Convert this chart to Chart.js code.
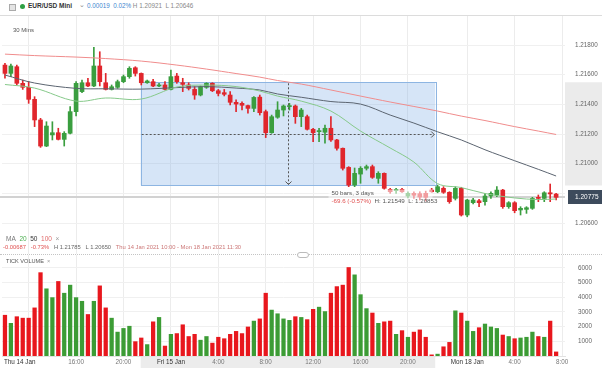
<!DOCTYPE html>
<html>
<head>
<meta charset="utf-8">
<script src="https://cdn.jsdelivr.net/npm/chart.js@4.4.1/dist/chart.umd.min.js"></script>
<style>
  body { margin: 0; width: 602px; height: 368px; overflow: hidden; background: #fff; position: relative;
         font-family: "Liberation Sans", Arial, sans-serif; }
  .abs { position: absolute; white-space: nowrap; line-height: 1; }
  canvas { position: absolute; left: 0; }
  #hdr { left: 0; top: 0; width: 602px; height: 15px; border-bottom: 1px solid #dcdcdc; }
  #sep { left: 0; top: 254px; width: 602px; border-top: 1px dotted #c4c4c4; }
</style>
</head>
<body>
<div class="abs" id="hdr"></div>
<div class="abs" style="left:9px;top:4px;width:5px;height:5px;border:1px solid #aaa;background:#e4e4e4"></div>
<div class="abs" style="left:20px;top:4px;width:5px;height:5px;border-radius:50%;background:#2ea043"></div>
<div class="abs" style="left:28px;top:3px;font-size:6.5px;font-weight:bold;color:#333">EUR/USD Mini</div>
<div class="abs" style="left:79px;top:2px;font-size:6.5px;color:#888">&#8964;</div>
<div class="abs" style="left:87px;top:3px;font-size:6.3px;color:#888">
  <span style="color:#3f86cf">0.00019</span>&nbsp; <span style="color:#3f86cf">0.02%</span> H 1.20921&nbsp; L 1.20646</div>
<div class="abs" style="left:13px;top:27px;font-size:6px;color:#555;z-index:2">30 Mins</div>

<canvas id="price" width="602" height="238" style="top:16px"></canvas>

<div class="abs" style="left:6px;top:236px;font-size:6.5px;color:#777;z-index:2">MA&nbsp;
  <span style="color:#4caf50">20</span>&nbsp; <span style="color:#333">50</span>&nbsp;
  <span style="color:#e06a6a">100</span>&nbsp; <span style="color:#999">&#215;</span></div>
<div class="abs" style="left:3px;top:245px;font-size:5.8px;color:#666;z-index:2">
  <span style="color:#e05050">-0.00687</span>&nbsp;&nbsp; <span style="color:#e05050">-0.73%</span>&nbsp;&nbsp;
  H 1.21785&nbsp;&nbsp; L 1.20650&nbsp;&nbsp;
  <span style="color:#c77">Thu 14 Jan 2021 10:00 - Mon 18 Jan 2021 11:30</span></div>

<div class="abs" id="sep"></div>
<div class="abs" style="left:297px;top:252px;width:10px;height:4px;border:1px solid #bbb;border-radius:3px;background:#fff"></div>

<canvas id="vol" width="602" height="113" style="top:255px"></canvas>
<div class="abs" style="left:6px;top:259px;font-size:5.6px;color:#555;z-index:2">TICK VOLUME&nbsp; <span style="color:#999">&#215;</span></div>

<script>
// 30 minute bars, Thu 14 Jan 10:00 -> Mon 18 Jan 07:30
const open = [
  1.21665, 1.21609, 1.21654, 1.21542, 1.21515, 1.21434, 1.21295, 1.21119, 1.21194, 1.21209,
  1.21164, 1.21205, 1.21351, 1.21486, 1.21546, 1.21524, 1.21659, 1.21546, 1.21501, 1.21515,
  1.21553, 1.21587, 1.21647, 1.21609, 1.21546, 1.21553, 1.21524, 1.21531, 1.21501, 1.21591,
  1.21546, 1.21531, 1.21501, 1.21463, 1.21515, 1.21542, 1.21492, 1.21479, 1.21463, 1.21414,
  1.21407, 1.21392, 1.21373, 1.21449, 1.21351, 1.21209, 1.21313, 1.21362, 1.21385, 1.21389,
  1.21317, 1.21317, 1.21232, 1.21216, 1.21212, 1.21239, 1.21160, 1.21104, 1.20975, 1.20856,
  1.20930, 1.20969, 1.20980, 1.20901, 1.20935, 1.20827, 1.20818, 1.20827, 1.20782, 1.20800,
  1.20798, 1.20800, 1.20822, 1.20811, 1.20834, 1.20807, 1.20766, 1.20834, 1.20654, 1.20737,
  1.20750, 1.20744, 1.20782, 1.20789, 1.20822, 1.20710, 1.20737, 1.20688, 1.20692, 1.20699,
  1.20773, 1.20766, 1.20804, 1.20795
];
const high = [
  1.21677, 1.21672, 1.21665, 1.21564, 1.21553, 1.21452, 1.21306, 1.21283, 1.21283, 1.21239,
  1.21216, 1.21385, 1.21553, 1.21564, 1.21576, 1.21785, 1.21755, 1.21609, 1.21531, 1.21564,
  1.21598, 1.21654, 1.21654, 1.21612, 1.21564, 1.21569, 1.21542, 1.21553, 1.21632, 1.21609,
  1.21576, 1.21546, 1.21519, 1.21524, 1.21546, 1.21546, 1.21501, 1.21501, 1.21486, 1.21430,
  1.21418, 1.21396, 1.21452, 1.21463, 1.21362, 1.21328, 1.21418, 1.21396, 1.21407, 1.21396,
  1.21373, 1.21328, 1.21239, 1.21239, 1.21261, 1.21317, 1.21164, 1.21106, 1.20980, 1.20971,
  1.20980, 1.20991, 1.20991, 1.20946, 1.20938, 1.20834, 1.20834, 1.20834, 1.20811, 1.20811,
  1.20811, 1.20815, 1.20834, 1.20856, 1.20845, 1.20811, 1.20845, 1.20841, 1.20760, 1.20766,
  1.20760, 1.20800, 1.20811, 1.20845, 1.20827, 1.20744, 1.20744, 1.20710, 1.20710, 1.20773,
  1.20789, 1.20811, 1.20863, 1.20800
];
const low = [
  1.21576, 1.21587, 1.21531, 1.21501, 1.21407, 1.21250, 1.21110, 1.21115, 1.21160, 1.21160,
  1.21119, 1.21200, 1.21322, 1.21479, 1.21519, 1.21519, 1.21524, 1.21497, 1.21497, 1.21508,
  1.21546, 1.21576, 1.21591, 1.21531, 1.21542, 1.21519, 1.21519, 1.21497, 1.21497, 1.21542,
  1.21486, 1.21497, 1.21434, 1.21457, 1.21508, 1.21486, 1.21457, 1.21457, 1.21396, 1.21351,
  1.21362, 1.21340, 1.21351, 1.21328, 1.21176, 1.21205, 1.21306, 1.21322, 1.21362, 1.21272,
  1.21250, 1.21227, 1.21149, 1.21149, 1.21138, 1.21150, 1.21092, 1.20957, 1.20845, 1.20845,
  1.20868, 1.20957, 1.20901, 1.20868, 1.20827, 1.20800, 1.20800, 1.20807, 1.20769, 1.20766,
  1.20755, 1.20748, 1.20807, 1.20804, 1.20800, 1.20733, 1.20755, 1.20647, 1.20642, 1.20728,
  1.20710, 1.20721, 1.20766, 1.20777, 1.20699, 1.20699, 1.20669, 1.20654, 1.20665, 1.20692,
  1.20744, 1.20744, 1.20744, 1.20755
];
const close = [
  1.21609, 1.21659, 1.21542, 1.21515, 1.21434, 1.21295, 1.21119, 1.21254, 1.21209, 1.21164,
  1.21205, 1.21351, 1.21542, 1.21546, 1.21524, 1.21659, 1.21553, 1.21501, 1.21519, 1.21553,
  1.21587, 1.21643, 1.21609, 1.21546, 1.21558, 1.21524, 1.21531, 1.21501, 1.21587, 1.21553,
  1.21535, 1.21508, 1.21463, 1.21519, 1.21542, 1.21492, 1.21474, 1.21468, 1.21414, 1.21402,
  1.21394, 1.21373, 1.21447, 1.21344, 1.21209, 1.21317, 1.21362, 1.21389, 1.21389, 1.21317,
  1.21362, 1.21232, 1.21209, 1.21223, 1.21239, 1.21160, 1.21104, 1.20969, 1.20856, 1.20935,
  1.20969, 1.20980, 1.20908, 1.20935, 1.20834, 1.20811, 1.20827, 1.20811, 1.20800, 1.20787,
  1.20775, 1.20773, 1.20811, 1.20845, 1.20807, 1.20744, 1.20834, 1.20654, 1.20755, 1.20755,
  1.20737, 1.20782, 1.20800, 1.20822, 1.20710, 1.20737, 1.20683, 1.20699, 1.20703, 1.20766,
  1.20766, 1.20804, 1.20796, 1.20773
];
const volume = [
  2800, 2250, 2700, 2600, 2600, 3300, 5700, 4600, 4000, 5100,
  4300, 4850, 4000, 3750, 2850, 3750, 4800, 3300, 2600, 1650,
  1900, 2050, 1000, 1250, 800, 2350, 2650, 700, 1500, 1550,
  2150, 1350, 1500, 1100, 1350, 900, 1300, 1200, 1500, 1700,
  1550, 2000, 2400, 2550, 4300, 3150, 2900, 2550, 2450, 2700,
  2650, 2500, 3200, 3350, 3050, 4300, 4750, 4850, 6050, 5550,
  4200, 3250, 2950, 2250, 2350, 2400, 1500, 1750, 1300, 1650,
  1800, 1300, 100, 150, 650, 950, 3100, 2950, 2400, 1700,
  1950, 2200, 2000, 1900, 1450, 1350, 1200, 1250, 1300, 1650,
  1350, 1300, 2400, 300
];

const maAt  = [0, 5, 12, 17, 23, 29, 34, 39, 43, 46, 50, 55, 60, 65, 69, 73, 77, 81, 86, 90, 93];
const ma20  = [1.21534, 1.21510, 1.21422, 1.21443, 1.21436, 1.21517, 1.21530, 1.21520, 1.21490, 1.21456, 1.21422,
               1.21355, 1.21220, 1.21106, 1.21011, 1.20866, 1.20839, 1.20799, 1.20769, 1.20758, 1.20762];
const ma50  = [1.21598, 1.21544, 1.21508, 1.21505, 1.21503, 1.21513, 1.21520, 1.21510, 1.21497, 1.21470, 1.21448,
               1.21419, 1.21402, 1.21328, 1.21274, 1.21215, 1.21160, 1.21094, 1.21020, 1.20962, 1.20917];
const ma100 = [1.21739, 1.21729, 1.21719, 1.21709, 1.21692, 1.21665, 1.21638, 1.21608, 1.21584, 1.21561, 1.21537,
               1.21497, 1.21456, 1.21416, 1.21386, 1.21355, 1.21321, 1.21291, 1.21250, 1.21220, 1.21197];

// axis
const slots = 95; // one empty slot at the end (Mon 8:00)
const tickLabels = { 12: "16:00", 20: "20:00", 28: "Fri 15 Jan", 36: "4:00", 44: "8:00", 52: "12:00",
                     60: "16:00", 68: "20:00", 78: "Mon 18 Jan", 86: "4:00", 94: "8:00" };
const gridAt = [4, 12, 20, 28, 36, 44, 52, 60, 68, 78, 86, 94];
const priceTicks = [1.218, 1.216, 1.214, 1.212, 1.21, 1.208, 1.206];
const volTicks = [1000, 2000, 3000, 4000, 5000, 6000];
const lastPrice = 1.20775;

// measured range (date range tool)
const boxFrom = 22.9, boxTo = 72.6, boxBars = 50, boxDays = 3;
const boxHigh = 1.21549, boxLow = 1.20853;

const UP = "#3a9e3f", DOWN = "#e0262c";
const FONT = '"Liberation Sans", Arial, sans-serif';

const labels = Array.from({ length: slots }, (_, i) => String(i));
const colors = close.map((c, i) => (c >= open[i] ? UP : DOWN));
const volColors = close.map((c, i) => (c >= open[i] ? "#3c9c35" : "#e8171d"));

function sparse(vals) {
  const out = new Array(open.length).fill(null);
  maAt.forEach((idx, k) => { out[idx] = vals[k]; });
  return out;
}

function xAxis(show) {
  return {
    type: "category",
    offset: true,
    grid: { offset: false, drawTicks: false, color: (c) => (gridAt.includes(c.index) ? "#ececec" : "rgba(0,0,0,0)") },
    border: { display: show, color: "#e2e2e2" },
    ticks: {
      display: show, autoSkip: false, maxRotation: 0, padding: 2,
      font: { size: 6.3, family: FONT },
      color: (c) => (/Jan/.test(tickLabels[c.index] || "") ? "#333" : "#777"),
      callback: (v, i) => tickLabels[i] || "",
    },
    afterFit: (s) => { s.height = show ? 12 : 0; s.paddingLeft = 0; s.paddingRight = 0; },
  };
}

function yAxis(opts) {
  return Object.assign({
    position: "right",
    grid: { drawTicks: false, color: "#f0f0f0" },
    border: { display: false },
    afterFit: (s) => { s.width = 37; s.paddingTop = 0; s.paddingBottom = 0; },
  }, opts);
}

const pricePlugin = {
  id: "pricePlugin",
  beforeDraw(chart) {
    const { ctx, scales: { y }, chartArea: a } = chart;
    const y0 = y.getPixelForValue(boxHigh), y1 = y.getPixelForValue(boxLow);
    ctx.save();
    ctx.fillStyle = "#ebebeb";
    ctx.fillRect(a.right, y0, chart.width - a.right, y1 - y0);
    ctx.restore();
  },
  beforeDatasetsDraw(chart) {
    const { ctx, scales: { x, y }, chartArea: a } = chart;
    const x0 = x.getPixelForValue(boxFrom), x1 = x.getPixelForValue(boxTo);
    const y0 = y.getPixelForValue(boxHigh), y1 = y.getPixelForValue(boxLow);
    ctx.save();
    const yp = y.getPixelForValue(lastPrice);
    ctx.strokeStyle = "#d2d2d2";
    ctx.lineWidth = 2;
    ctx.beginPath(); ctx.moveTo(0, yp); ctx.lineTo(a.right, yp); ctx.stroke();
    ctx.fillStyle = "rgba(120,170,230,0.3)";
    ctx.fillRect(x0, y0, x1 - x0, y1 - y0);
    ctx.strokeStyle = "#8db5e2";
    ctx.lineWidth = 1;
    ctx.strokeRect(Math.round(x0) + 0.5, Math.round(y0) + 0.5, Math.round(x1 - x0), Math.round(y1 - y0));
    ctx.restore();
  },
  afterDatasetsDraw(chart) {
    const { ctx, scales: { x, y }, chartArea: a } = chart;
    const x0 = x.getPixelForValue(boxFrom), x1 = x.getPixelForValue(boxTo);
    const y0 = y.getPixelForValue(boxHigh), y1 = y.getPixelForValue(boxLow);
    const xm = Math.round((x0 + x1) / 2) + 0.5, ym = Math.round((y0 + y1) / 2) + 0.5;
    ctx.save();
    ctx.strokeStyle = "#555";
    ctx.lineWidth = 1;
    ctx.setLineDash([2, 2]);
    ctx.beginPath();
    ctx.moveTo(x0 + 1, ym); ctx.lineTo(x1 - 1, ym);
    ctx.moveTo(xm, y0 + 1); ctx.lineTo(xm, y1 - 1);
    ctx.stroke();
    ctx.setLineDash([]);
    ctx.beginPath();
    ctx.moveTo(x1 - 4, ym - 3); ctx.lineTo(x1 - 1, ym); ctx.lineTo(x1 - 4, ym + 3);
    ctx.moveTo(xm - 3, y1 - 4); ctx.lineTo(xm, y1 - 1); ctx.lineTo(xm + 3, y1 - 4);
    ctx.stroke();

    // measurement label
    const diff = (boxLow - boxHigh) * 10000;
    const pct = ((boxLow - boxHigh) / boxHigh) * 100;
    const chg = diff.toFixed(1) + " (" + pct.toFixed(2) + "%)";
    const lx = xm + 43, ly = y1 + 8;
    ctx.fillStyle = "rgba(255,255,255,0.55)";
    ctx.fillRect(lx - 3, y1 + 4, 104, 17);
    ctx.font = "6.2px " + FONT;
    ctx.textBaseline = "middle";
    ctx.textAlign = "left";
    ctx.fillStyle = "#555";
    ctx.fillText(boxBars + " bars, " + boxDays + " days", lx, ly);
    ctx.fillStyle = "#e05050";
    ctx.fillText(chg, lx, ly + 8);
    const w = ctx.measureText(chg + "  ").width;
    ctx.fillStyle = "#555";
    ctx.fillText("H: " + boxHigh.toFixed(5) + "  L: " + boxLow.toFixed(5), lx + w, ly + 8);

    // last price tag
    const yp = y.getPixelForValue(lastPrice);
    ctx.fillStyle = "#3d4b5c";
    ctx.fillRect(a.right + 3, Math.round(yp) - 7, chart.width - a.right - 3, 14);
    ctx.fillStyle = "#fff";
    ctx.font = "6.5px " + FONT;
    ctx.fillText(lastPrice.toFixed(5), a.right + 10, yp);
    ctx.restore();
  },
};

new Chart(document.getElementById("price"), {
  type: "bar",
  data: {
    labels,
    datasets: [
      { type: "line", data: sparse(ma20), borderColor: "#86c98a", borderWidth: 1, pointRadius: 0, spanGaps: true, tension: 0.35, order: 1 },
      { type: "line", data: sparse(ma50), borderColor: "#5b6470", borderWidth: 1, pointRadius: 0, spanGaps: true, tension: 0.35, order: 1 },
      { type: "line", data: sparse(ma100), borderColor: "#f08c8c", borderWidth: 1, pointRadius: 0, spanGaps: true, tension: 0.35, order: 1 },
      { data: low.map((l, i) => [l, high[i]]), backgroundColor: colors, barThickness: 1, grouped: false, order: 3 },
      { data: open.map((o, i) => [o, close[i]]), backgroundColor: colors, barThickness: 4, minBarLength: 1, grouped: false, order: 2 },
    ],
  },
  options: {
    responsive: false,
    animation: false,
    layout: { padding: { left: 2, right: 0, top: 0, bottom: 0 } },
    plugins: { legend: { display: false }, tooltip: { enabled: false } },
    scales: {
      x: xAxis(false),
      y: yAxis({
        min: 1.20391,
        max: 1.21996,
        ticks: { padding: 10, font: { size: 6.3, family: FONT }, color: "#666", callback: (v) => v.toFixed(5) },
        afterBuildTicks: (s) => { s.ticks = priceTicks.map((v) => ({ value: v })); },
      }),
    },
  },
  plugins: [pricePlugin],
});

const volPlugin = {
  id: "volPlugin",
  beforeDraw(chart) {
    const { ctx, scales: { x }, chartArea: a } = chart;
    const x0 = x.getPixelForValue(boxFrom), x1 = x.getPixelForValue(boxTo);
    ctx.save();
    ctx.fillStyle = "#ececec";
    ctx.fillRect(x0, a.bottom, x1 - x0, chart.height - a.bottom);
    ctx.restore();
  },
  afterDraw(chart) {
    const { ctx, chartArea: a } = chart;
    ctx.save();
    ctx.font = "6.3px " + FONT;
    ctx.fillStyle = "#333";
    ctx.textBaseline = "middle";
    ctx.fillText("Thu 14 Jan", a.left + 2, a.bottom + 6);
    ctx.restore();
  },
};

new Chart(document.getElementById("vol"), {
  type: "bar",
  data: {
    labels,
    datasets: [{ data: volume, backgroundColor: volColors, barPercentage: 0.72, categoryPercentage: 1 }],
  },
  options: {
    responsive: false,
    animation: false,
    layout: { padding: { left: 2, right: 0, top: 0, bottom: 0 } },
    plugins: { legend: { display: false }, tooltip: { enabled: false } },
    scales: {
      x: xAxis(true),
      y: yAxis({
        min: 0,
        max: 6880,
        ticks: { padding: 13, font: { size: 6.3, family: FONT }, color: "#666", callback: (v) => String(v) },
        afterBuildTicks: (s) => { s.ticks = volTicks.map((v) => ({ value: v })); },
      }),
    },
  },
  plugins: [volPlugin],
});
</script>
</body>
</html>
